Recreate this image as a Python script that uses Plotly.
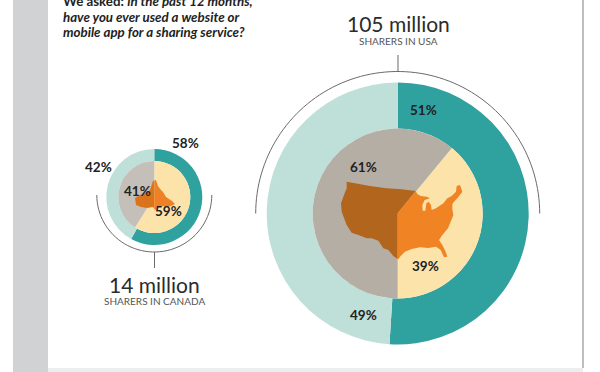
import numpy as np
import plotly.graph_objects as go

W, H = 600, 372

# ---- data ----
usa_outer_labels = ["Used", "Not used"]
usa_outer_values = [51, 49]
usa_inner_labels = ["Used", "Not used"]
usa_inner_values = [39, 61]
can_outer_values = [58, 42]
can_inner_values = [59, 41]

# ---- map outlines (pixel coordinates) ----
USA_WEST_Z = [(257, 63), (215, 58), (170, 55), (120, 48), (75, 40), (50, 35), (50, 55), (42, 75), (33, 100),
              (35, 125), (50, 165), (65, 188), (85, 195), (110, 205), (125, 205), (145, 212), (160, 235),
              (175, 240), (190, 258), (203, 267), (203, 130)]
USA_EAST_Z = [(257, 63), (262, 72), (272, 78), (290, 80), (300, 85), (284, 90), (277, 105), (278, 122), (286, 122),
              (289, 100), (296, 95), (303, 105), (305, 120), (318, 115), (340, 100), (352, 85), (365, 78),
              (378, 65), (380, 48), (390, 45), (397, 65), (392, 72), (382, 85), (372, 95), (367, 102),
              (367, 118), (370, 135), (362, 155), (354, 175), (337, 195), (327, 210), (337, 225), (347, 245),
              (352, 260), (342, 262), (332, 240), (318, 230), (295, 234), (270, 232), (245, 237), (225, 245),
              (210, 260), (205, 268), (203, 267), (203, 130)]
usa_west = [(330 + x / 3, 170 + y / 3) for x, y in USA_WEST_Z]
usa_east = [(330 + x / 3, 170 + y / 3) for x, y in USA_EAST_Z]
can_west = [(154.3, 180.5), (153, 181), (150, 190), (146, 193), (140, 195), (135, 198), (136, 205), (141, 207),
            (147, 208), (153, 207), (154.3, 209)]
can_east = [(154.3, 180.5), (156, 180), (158, 186), (161, 190), (163, 192), (166, 197), (172, 201), (175, 204),
            (171, 206), (167, 207), (162, 206), (158, 207), (157, 211), (154.3, 209)]

TEAL, MINT, CREAM = "#2fa19e", "#bfdfd9", "#fce3aa"
GREY_US, GREY_CA = "#b5aea5", "#c4bfb8"


def px(x, y):
    return x / W, 1 - y / H


def path(points, close=True):
    s = "M" + " L".join("%.5f,%.5f" % px(x, y) for x, y in points)
    return s + (" Z" if close else "")


def domain(cx, cy, r):
    return dict(x=[(cx - r) / W, (cx + r) / W], y=[1 - (cy + r) / H, 1 - (cy - r) / H])


def pie(values, colors, cx, cy, r, hole=0, rotation=0):
    return go.Pie(values=values, labels=usa_outer_labels, marker=dict(colors=colors, line=dict(width=0)),
                  domain=domain(cx, cy, r), hole=hole, rotation=rotation, sort=False,
                  direction="clockwise", textinfo="none", hoverinfo="skip", showlegend=False)


US_C = (397.7, 213.5)
CA_C = (154.3, 197)

fig = go.Figure()
fig.add_trace(pie(usa_outer_values, [TEAL, MINT], US_C[0], US_C[1], 131, hole=85 / 131))
fig.add_trace(pie(usa_inner_values, [CREAM, GREY_US], US_C[0], US_C[1], 85, rotation=39.6))
fig.add_trace(pie(can_outer_values, [TEAL, MINT], CA_C[0], CA_C[1], 48, hole=36 / 48))
fig.add_trace(pie(can_inner_values, [CREAM, GREY_CA], CA_C[0], CA_C[1], 36))

shapes = []


def rect(x0, y0, x1, y1, color):
    a, b = px(x0, y0)
    c, d = px(x1, y1)
    shapes.append(dict(type="rect", xref="paper", yref="paper", x0=a, y0=b, x1=c, y1=d,
                       fillcolor=color, line=dict(width=0), layer="below"))


rect(13, 0, 48, 372, "#d1d2d4")
rect(48, 368, 583, 372, "#ecedef")
rect(582, 0, 584, 368, "#bdbec0")

for pts, col in [(usa_west, "#b2651c"), (usa_east, "#f08424"), (can_west, "#d9741c"), (can_east, "#ee8026")]:
    shapes.append(dict(type="path", xref="paper", yref="paper", path=path(pts), fillcolor=col,
                       line=dict(width=0), layer="above"))

t = np.linspace(np.pi, 2 * np.pi, 90)
us_arc = [(US_C[0] + 142 * np.cos(a), US_C[1] + 142 * np.sin(a)) for a in t]
t2 = np.linspace(0, np.pi, 50)
ca_arc = [(CA_C[0] + 57.5 * np.cos(a), CA_C[1] - 2 + 57 * np.sin(a)) for a in t2]
for pts in [us_arc, ca_arc, [(398, 55), (398, 71.5)], [(154.5, 252), (154.5, 268)]]:
    shapes.append(dict(type="path", xref="paper", yref="paper", path=path(pts, close=False),
                       line=dict(color="#6a6a6a", width=1), layer="above"))

anns = []


def text(x, y, s, size, color="#222222", anchor="center"):
    a, b = px(x, y)
    anns.append(dict(x=a, y=b, xref="paper", yref="paper", text=s, showarrow=False, xanchor=anchor,
                     yanchor="middle", font=dict(family="Lato", size=size, color=color)))


for x, y, s in [(423, 110, "51%"), (363, 167, "61%"), (425, 266, "39%"), (363, 315, "49%"),
                (185, 143, "58%"), (98, 167, "42%"), (137, 191, "41%"), (168, 211, "59%")]:
    text(x, y, "<b>%s</b>" % s, 13.5)

text(398, 24, "105 million", 21, "#2b2b2b")
text(398, 41, "SHARERS IN USA", 10, "#555555")
text(154.5, 284, "14 million", 21, "#2b2b2b")
text(154.5, 301, "SHARERS IN CANADA", 10, "#555555")
text(61, 1, "<b>We asked: <i>in the past 12 months,</i></b>", 13.3, anchor="left")
text(61, 17, "<b><i>have you ever used a website or</i></b>", 13.3, anchor="left")
text(61, 32, "<b><i>mobile app for a sharing service?</i></b>", 13.3, anchor="left")

fig.update_layout(width=W, height=H, margin=dict(l=0, r=0, t=0, b=0), paper_bgcolor="white",
                  plot_bgcolor="white", shapes=shapes, annotations=anns, showlegend=False)
fig.write_html("out.html", config=dict(displayModeBar=False),
               post_script="document.body.style.margin='0';document.documentElement.style.overflow='hidden';")
